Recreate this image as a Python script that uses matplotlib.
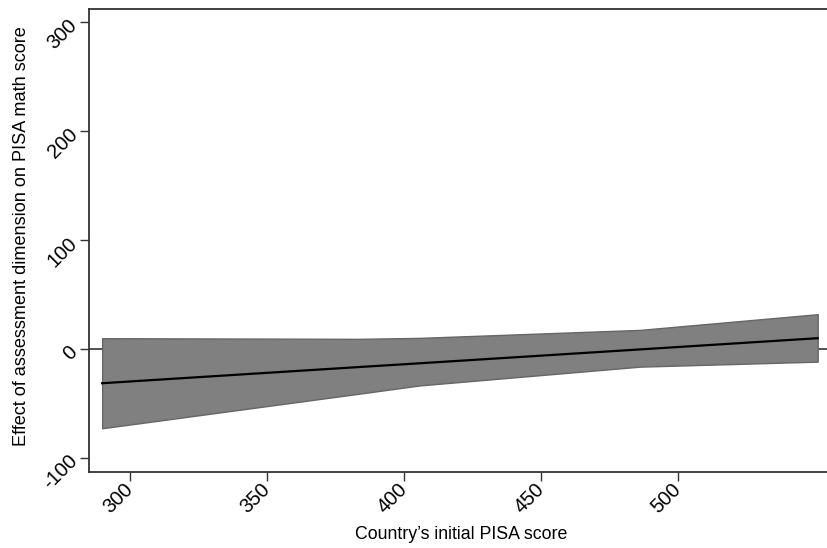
import matplotlib
matplotlib.use("Agg")
import matplotlib.pyplot as plt

plt.rcParams['font.family'] = ['Liberation Sans', 'DejaVu Sans']
plt.rcParams['axes.unicode_minus'] = False

# initial PISA score and the estimated effect with its confidence band
pisa_score = [289.8, 383.9, 405.8, 486.1, 551.0]
ci_upper = [10.1, 9.5, 10.4, 17.7, 32.1]
ci_lower = [-72.5, -40.7, -33.2, -16.0, -11.4]
effect = [-31.2, -16.3, -12.9, -0.2, 10.1]

x_ticks = [300, 350, 400, 450, 500]
y_ticks = [-100, 0, 100, 200, 300]

fig = plt.figure(figsize=(8.27, 5.48), dpi=100)
ax = fig.add_axes([0.1076, 0.1387, 0.8924, 0.8449])

ax.axhline(0, color='#333333', lw=1.2, zorder=1)
ax.fill_between(pisa_score, ci_lower, ci_upper, facecolor='#808080',
                edgecolor='#666666', lw=1.0, zorder=2)
ax.plot(pisa_score, effect, color='black', lw=1.6, zorder=3)

ax.set_xlim(285, 554.4)
ax.set_ylim(-112.6, 312)
ax.set_xticks(x_ticks)
ax.set_yticks(y_ticks)

for s in ['left', 'top', 'bottom']:
    ax.spines[s].set_color('#333333')
    ax.spines[s].set_linewidth(1.3)
ax.spines['right'].set_visible(False)

ax.tick_params(length=6.5, width=1.0, color='#333333', labelsize=14.5, pad=4)
for lab in ax.get_xticklabels() + ax.get_yticklabels():
    lab.set_rotation(45)
    lab.set_ha('right')
    lab.set_va('center')
    lab.set_rotation_mode('anchor')

ax.set_xlabel("Country\u2019s initial PISA score", fontsize=12.8, va='center')
ax.set_ylabel("Effect of assessment dimension on PISA math score", fontsize=13.1,
              va='center')
ax.xaxis.set_label_coords(0.505, -0.136)
ax.yaxis.set_label_coords(-0.092, 0.51)

fig.savefig('out.png', dpi=100)
